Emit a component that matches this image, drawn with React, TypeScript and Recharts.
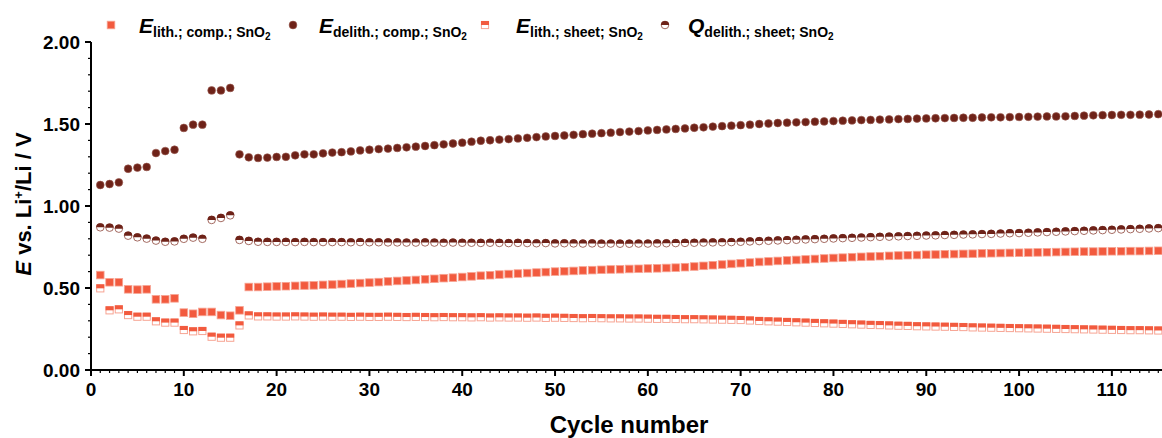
import React from 'react';
import { ScatterChart, Scatter, XAxis, YAxis } from 'recharts';

const ORANGE = '#F25A3E';
const ORANGE_EDGE = '#F7A493';
const BROWN = '#6E2218';
const BROWN_EDGE = '#9A5A50';
const FONT = '"Liberation Sans", Arial, Helvetica, sans-serif';

const cycles: number[] = Array.from({ length: 115 }, (_, i) => i + 1);

const eLithComp = [
  0.579, 0.535, 0.535, 0.492, 0.490, 0.492, 0.431, 0.431, 0.437, 0.350, 0.343, 0.354, 0.354, 0.335, 0.331, 0.364,
  0.506, 0.506, 0.508, 0.510, 0.511, 0.513, 0.515, 0.516, 0.519, 0.521, 0.524, 0.527, 0.530, 0.533, 0.536,
  0.540, 0.543, 0.546, 0.549, 0.553, 0.556, 0.560, 0.563, 0.567, 0.571, 0.575, 0.578, 0.582, 0.585, 0.588, 0.591, 0.594, 0.597, 0.600,
  0.602, 0.604, 0.607, 0.609, 0.611, 0.613, 0.614, 0.616, 0.617, 0.619, 0.620, 0.622, 0.624, 0.627, 0.631, 0.635, 0.639, 0.643, 0.647, 0.651,
  0.655, 0.659, 0.662, 0.665, 0.668, 0.671, 0.674, 0.677, 0.680, 0.683, 0.685, 0.688, 0.690, 0.692, 0.694, 0.696, 0.698, 0.700, 0.701, 0.703,
  0.704, 0.706, 0.707, 0.708, 0.709, 0.711, 0.712, 0.713, 0.714, 0.715, 0.716, 0.717, 0.718, 0.719, 0.720, 0.721, 0.722, 0.722, 0.723, 0.724, 0.724, 0.725, 0.725, 0.726, 0.727,
];

const eDelithComp = [
  1.128, 1.134, 1.144, 1.227, 1.234, 1.238, 1.323, 1.335, 1.343, 1.476, 1.496, 1.496, 1.705, 1.705, 1.720, 1.315,
  1.297, 1.293, 1.295, 1.299, 1.300, 1.309, 1.315, 1.315, 1.321, 1.326, 1.328, 1.333, 1.339, 1.343, 1.347,
  1.350, 1.354, 1.358, 1.362, 1.366, 1.371, 1.376, 1.381, 1.386, 1.392, 1.398, 1.401, 1.405, 1.408, 1.412, 1.416, 1.420, 1.424, 1.427,
  1.430, 1.434, 1.438, 1.441, 1.444, 1.447, 1.451, 1.454, 1.457, 1.461, 1.464, 1.467, 1.470, 1.473, 1.477, 1.480, 1.484, 1.487, 1.490, 1.493,
  1.496, 1.500, 1.503, 1.506, 1.508, 1.510, 1.512, 1.514, 1.516, 1.518, 1.520, 1.522, 1.524, 1.525, 1.527, 1.528, 1.530, 1.531, 1.533, 1.534,
  1.535, 1.536, 1.537, 1.538, 1.538, 1.540, 1.541, 1.541, 1.542, 1.543, 1.544, 1.545, 1.546, 1.546, 1.547, 1.549, 1.551, 1.553, 1.554, 1.555, 1.556, 1.556, 1.557, 1.558, 1.560,
];

const eLithSheet = [
  0.498, 0.364, 0.370, 0.335, 0.325, 0.325, 0.297, 0.289, 0.289, 0.244, 0.236, 0.238, 0.203, 0.197, 0.197, 0.272,
  0.333, 0.327, 0.327, 0.326, 0.326, 0.327, 0.326, 0.325, 0.326, 0.325, 0.325, 0.324, 0.325, 0.324, 0.324,
  0.325, 0.324, 0.323, 0.324, 0.323, 0.322, 0.323, 0.322, 0.322, 0.321, 0.322, 0.320, 0.321, 0.320, 0.320, 0.319, 0.320, 0.318, 0.319,
  0.318, 0.317, 0.316, 0.317, 0.316, 0.315, 0.315, 0.314, 0.314, 0.313, 0.312, 0.312, 0.311, 0.310, 0.310, 0.309, 0.308, 0.307, 0.306, 0.305,
  0.302, 0.299, 0.297, 0.295, 0.293, 0.291, 0.289, 0.287, 0.285, 0.283, 0.281, 0.279, 0.277, 0.275, 0.274, 0.272, 0.270, 0.269, 0.267, 0.266,
  0.265, 0.264, 0.263, 0.262, 0.260, 0.259, 0.258, 0.257, 0.256, 0.255, 0.254, 0.253, 0.252, 0.251, 0.250, 0.249, 0.248, 0.247, 0.246, 0.245, 0.244, 0.243, 0.243, 0.242, 0.241,
];

const qDelithSheet = [
  0.870, 0.868, 0.862, 0.819, 0.809, 0.801, 0.789, 0.782, 0.784, 0.800, 0.807, 0.800, 0.915, 0.927, 0.943, 0.793,
  0.787, 0.782, 0.781, 0.781, 0.781, 0.780, 0.781, 0.780, 0.780, 0.780, 0.780, 0.779, 0.780, 0.779, 0.779,
  0.778, 0.778, 0.777, 0.777, 0.778, 0.777, 0.776, 0.777, 0.776, 0.776, 0.775, 0.776, 0.775, 0.774, 0.775, 0.774, 0.773, 0.774, 0.772,
  0.773, 0.772, 0.771, 0.772, 0.770, 0.771, 0.770, 0.770, 0.771, 0.771, 0.772, 0.773, 0.774, 0.775, 0.776, 0.777, 0.778, 0.779, 0.780, 0.782,
  0.784, 0.786, 0.788, 0.790, 0.792, 0.794, 0.796, 0.798, 0.800, 0.802, 0.804, 0.806, 0.808, 0.810, 0.812, 0.813, 0.815, 0.817, 0.818, 0.820,
  0.821, 0.823, 0.824, 0.826, 0.827, 0.829, 0.830, 0.832, 0.834, 0.835, 0.837, 0.839, 0.841, 0.843, 0.845, 0.847, 0.849, 0.851, 0.853, 0.855, 0.857, 0.859, 0.861, 0.863, 0.865,
];

const xTicks: number[] = Array.from({ length: 116 }, (_, i) => i);
const yTicks = [0, 0.1, 0.2, 0.3, 0.4, 0.5, 0.6, 0.7, 0.8, 0.9, 1.0, 1.1, 1.2, 1.3, 1.4, 1.5, 1.6, 1.7, 1.8, 1.9, 2.0];
const X_DOMAIN: [number, number] = [0, 115.4];
const Y_DOMAIN: [number, number] = [0, 2];

const toPoints = (vals: number[]) => cycles.map((c, i) => ({ x: c, y: vals[i] }));

const isMajorX = (v: number) => v % 10 === 0;
const isMajorY = (v: number) => Math.abs(v * 2 - Math.round(v * 2)) < 1e-6;

const XBottomTick = (props: any) => {
  const { x, y, payload } = props;
  const v = payload.value;
  const major = isMajorX(v);
  return (
    <g>
      <line x1={x} x2={x} y1={y} y2={y + (major ? 6 : 3)} stroke="#000" strokeWidth={major ? 2 : 1.2} />
      {major && (
        <text x={x} y={y + 26} textAnchor="middle" fontFamily={FONT} fontWeight="bold" fontSize={19} fill="#000">
          {v}
        </text>
      )}
    </g>
  );
};

const XTopTick = (props: any) => {
  const { x, y, payload } = props;
  const major = isMajorX(payload.value);
  return <line x1={x} x2={x} y1={y} y2={y + (major ? 5 : 3)} stroke="#000" strokeWidth={major ? 2 : 1.2} />;
};

const YLeftTick = (props: any) => {
  const { x, y, payload } = props;
  const v = payload.value;
  const major = isMajorY(v);
  return (
    <g>
      <line x1={x - (major ? 6 : 3)} x2={x} y1={y} y2={y} stroke="#000" strokeWidth={major ? 2 : 1.2} />
      {major && (
        <text x={x - 11} y={y} dy="0.36em" textAnchor="end" fontFamily={FONT} fontWeight="bold" fontSize={19} fill="#000">
          {v.toFixed(2)}
        </text>
      )}
    </g>
  );
};

const SquareFilled = (p: any) => (
  <rect x={p.cx - 3.8} y={p.cy - 3.8} width={7.6} height={7.6} fill={ORANGE} stroke={ORANGE_EDGE} strokeWidth={0.8} />
);

const CircleFilled = (p: any) => <circle cx={p.cx} cy={p.cy} r={3.9} fill={BROWN} stroke={BROWN_EDGE} strokeWidth={0.6} />;

const SquareHalf = (p: any) => (
  <g>
    <rect x={p.cx - 3.6} y={p.cy - 3.6} width={7.2} height={7.2} fill="#fff" stroke={ORANGE_EDGE} strokeWidth={1} />
    <rect x={p.cx - 4} y={p.cy - 4} width={8} height={4} fill={ORANGE} />
  </g>
);

const CircleHalf = (p: any) => {
  const r = 3.8;
  return (
    <g>
      <circle cx={p.cx} cy={p.cy} r={r} fill="#fff" stroke={BROWN_EDGE} strokeWidth={0.9} />
      <path d={`M ${p.cx - r - 0.3} ${p.cy} A ${r + 0.3} ${r + 0.3} 0 0 1 ${p.cx + r + 0.3} ${p.cy} Z`} fill={BROWN} />
    </g>
  );
};

const legendItems = [
  { marker: 'sq', mx: 111, tx: 139, main: 'E', sub: 'lith.; comp.; SnO' },
  { marker: 'ci', mx: 293, tx: 319, main: 'E', sub: 'delith.; comp.; SnO' },
  { marker: 'sqh', mx: 485, tx: 516, main: 'E', sub: 'lith.; sheet; SnO' },
  { marker: 'cih', mx: 665, tx: 688, main: 'Q', sub: 'delith.; sheet; SnO' },
];

const LegendMarker = ({ kind, x, y }: { kind: string; x: number; y: number }) => {
  if (kind === 'sq') return <SquareFilled cx={x} cy={y} />;
  if (kind === 'ci') return <CircleFilled cx={x} cy={y} />;
  if (kind === 'sqh') return <SquareHalf cx={x} cy={y} />;
  return <CircleHalf cx={x} cy={y} />;
};

export default function App() {
  return (
    <div style={{ position: 'absolute', left: 0, top: 0, width: 1162, height: 438, background: '#fff', overflow: 'hidden' }}>
      <ScatterChart width={1162} height={438} margin={{ top: 42, right: 0, bottom: 0, left: 0 }}>
        <XAxis
          xAxisId="b"
          type="number"
          dataKey="x"
          domain={X_DOMAIN}
          allowDataOverflow
          ticks={xTicks}
          interval={0}
          tick={XBottomTick}
          tickLine={false}
          tickSize={0}
          tickMargin={0}
          axisLine={{ stroke: '#000', strokeWidth: 2 }}
          height={68}
        />
        <XAxis
          xAxisId="t"
          orientation="top"
          type="number"
          dataKey="x"
          domain={X_DOMAIN}
          allowDataOverflow
          ticks={xTicks}
          interval={0}
          tick={XTopTick}
          tickLine={false}
          tickSize={0}
          tickMargin={0}
          axisLine={{ stroke: '#000', strokeWidth: 2 }}
          height={0}
        />
        <YAxis
          yAxisId="l"
          type="number"
          dataKey="y"
          domain={Y_DOMAIN}
          allowDataOverflow
          ticks={yTicks}
          interval={0}
          tick={YLeftTick}
          tickLine={false}
          tickSize={0}
          tickMargin={0}
          axisLine={{ stroke: '#000', strokeWidth: 2 }}
          width={91}
        />
        <Scatter xAxisId="b" yAxisId="l" data={toPoints(eLithComp)} shape={SquareFilled} isAnimationActive={false} />
        <Scatter xAxisId="b" yAxisId="l" data={toPoints(eDelithComp)} shape={CircleFilled} isAnimationActive={false} />
        <Scatter xAxisId="b" yAxisId="l" data={toPoints(eLithSheet)} shape={SquareHalf} isAnimationActive={false} />
        <Scatter xAxisId="b" yAxisId="l" data={toPoints(qDelithSheet)} shape={CircleHalf} isAnimationActive={false} />
      </ScatterChart>
      <svg width={1162} height={438} style={{ position: 'absolute', left: 0, top: 0, pointerEvents: 'none' }}>
        {legendItems.map((it) => (
          <g key={it.tx}>
            <LegendMarker kind={it.marker} x={it.mx} y={25} />
            <text x={it.tx} y={33} fontFamily={FONT} fontWeight="bold" fill="#000">
              <tspan fontSize={21} fontStyle="italic">{it.main}</tspan>
              <tspan fontSize={14} dy={4}>{it.sub}</tspan>
              <tspan fontSize={10} dy={3}>2</tspan>
            </text>
          </g>
        ))}
        <text transform="translate(31,204) rotate(-90)" textAnchor="middle" fontFamily={FONT} fontWeight="bold" fontSize={22} fill="#000">
          <tspan fontStyle="italic">E</tspan>
          <tspan> vs. Li</tspan>
          <tspan fontSize={13} dy={-8}>+</tspan>
          <tspan dy={8}>/Li / V</tspan>
        </text>
        <text x={629} y={433} textAnchor="middle" fontFamily={FONT} fontWeight="bold" fontSize={24} fill="#000">
          Cycle number
        </text>
      </svg>
    </div>
  );
}
